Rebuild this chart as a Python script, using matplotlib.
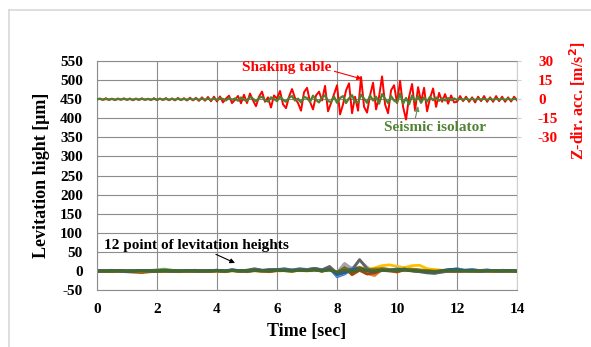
import numpy as np
import matplotlib
matplotlib.use("Agg")
import matplotlib.pyplot as plt
from matplotlib.lines import Line2D

# ---- data ------------------------------------------------------------------
# acceleration signals, sampled every 0.1 s (m/s^2)
acc_time = np.round(np.arange(0, 14.01, 0.1), 2)
shaking_table = [
    0, 0.5, -0.5, 0.8, -0.6, 0.4, -0.7, 0.6, -0.4, 0.7,
    -0.5, 0.6, -0.8, 0.5, -0.6, 0.7, -0.5, 0.4, -0.6, 0.8,
    -0.7, 0.5, -0.6, 0.9, -0.8, 0.6, -0.9, 1.0, -0.7, 0.8,
    -1.0, 1.2, -0.9, 1.1, -1.3, 1.5, -1.2, 1.8, -1.6, 2.0,
    -1.8, 2.2, -2.5, 0.5, 2.8, -3.0, -0.5, 2.6, -3.2, 3.5,
    -3.0, 4.5, -1.0, -5.5, 2.0, 6.0, -2.0, 1.5, -6.5, 3.0,
    0.5, 6.5, -4.0, -7.0, 2.0, 8.0, 1.0, -3.0, -9.0, 5.5,
    9.0, -2.0, -8.0, 3.0, 6.0, -1.0, 10.5, -9.5, -3.0, 4.0,
    11.0, -12.0, -4.0, 7.0, 12.5, -11.0, 2.0, -9.0, 17.5, -6.0,
    -10.5, 3.0, 13.0, -8.0, 2.0, 18.0, -4.0, -11.0, 7.0, 11.0,
    -3.0, 14.5, -6.0, -16.0, 2.0, 12.0, -9.0, 9.5, -2.0, 9.0,
    -9.5, 1.0, 8.5, -6.0, 5.0, -2.0, 4.0, -3.5, 3.0, -2.5,
    -2.0, 2.5, -1.5, 2.0, -2.0, 1.5, -2.5, 2.0, -1.5, 2.5,
    -2.0, 1.5, -2.0, 2.5, -1.5, 2.0, -2.0, 1.5, -1.8, 2.0, -1.0,
]
seismic_isolator = [
    0, 0.3, -0.3, 0.2, -0.2, 0.3, -0.3, 0.2, -0.2, 0.3,
    -0.3, 0.2, -0.3, 0.3, -0.2, 0.3, -0.3, 0.2, -0.3, 0.3,
    -0.3, 0.4, -0.3, 0.3, -0.4, 0.3, -0.3, 0.4, -0.4, 0.3,
    -0.4, 0.5, -0.4, 0.5, -0.5, 0.6, -0.5, 0.6, -0.6, 0.7,
    -0.6, 0.8, 0.2, -0.9, 1.0, -0.4, 0.6, -1.2, 1.4, -0.5,
    -1.2, 1.8, 0.4, -1.6, 1.0, 2.0, -0.8, -1.8, 1.5, 0.2,
    -1.5, 2.2, -0.5, -2.0, 1.2, 2.5, -1.0, 0.5, -2.5, 1.8,
    1.0, -2.0, 2.8, -0.6, -2.5, 1.5, 3.0, -1.5, -2.2, 2.0,
    -2.8, 1.0, 2.5, -3.0, 0.8, 3.2, -2.0, -2.5, 3.5, 0.5,
    -2.8, 3.0, -1.0, 2.0, -3.5, 4.0, 0.5, -3.0, 2.5, -1.0,
    -2.5, 4.5, -3.5, 1.0, -4.0, 3.0, -1.5, 2.5, -2.8, 1.5,
    -1.8, 2.0, -0.8, 1.4, -1.2, 0.6, -1.0, 0.9, -0.7, 0.6,
    -0.6, 0.5, -0.5, 0.6, -0.6, 0.4, -0.5, 0.5, -0.4, 0.5,
    -0.5, 0.4, -0.5, 0.5, -0.4, 0.5, -0.5, 0.4, -0.5, 0.4, 0,
]

# levitation heights of 12 points, sampled every 0.25 s (um)
lev_time = np.round(np.arange(0, 14.01, 0.25), 2)
lev_1 = [0, 1, -1, 0, 1, 0, -1, 1, 0, -1, 1, 0, 1, -1, 0, 1,
         2, -1, 3, 1, -2, 4, 2, -1, 3, 5, 2, 6,
         4, 7, 3, 9, -15, -8, 5, 10, 2, -4, 6, 3, 5, 8, 4, 2, -3, -5, 1, 3,
         6, 2, 4, 1, 3, 0, 2, 1, 0]
lev_2 = [0, -1, 0, 1, -1, 0, 1, -1, 0, 0, -1, 1, 0, -1, 1, 0,
         1, -2, 2, 0, -1, 2, 1, -2, 2, 3, 0, 4,
         2, 5, 1, 6, -5, 12, -10, 3, -6, -12, 4, 2, -3, 5, 1, 0, 2, -2, 1, 0,
         -1, 1, 0, -1, 1, 0, 1, 0, 0]
lev_3 = [1, 0, -1, 1, 0, -1, 0, 1, -1, 0, 1, 0, -1, 1, 0, 0,
         1, 0, 2, -1, 1, 3, 0, 2, 4, 1, 3, 5,
         3, 6, 2, 8, -4, 20, 6, 28, 10, -2, 8, 4, 3, 6, 2, 0, -4, -6, -2, 1,
         -2, 0, -1, 1, -1, 0, 1, 0, 0]
lev_4 = [-1, 0, -2, -1, 0, -1, -2, 0, -1, 0, -1, -2, 0, -1, 0, -1,
         0, -1, 1, -1, 0, 1, -1, 2, 0, 1, -1, 2,
         0, 3, -1, 4, -6, 2, -3, 10, 4, 8, 14, 16, 12, 9, 14, 15, 6, 4, 2, 3,
         1, 2, 0, 2, 1, 0, 1, 0, 0]
lev_5 = [0, 1, 0, -1, 1, 0, 1, 0, -1, 1, 0, 1, 0, 1, -1, 0,
         2, 1, 3, 0, 2, 4, 1, 3, 4, 6, 3, 5,
         2, 5, 0, 7, -12, -6, 8, 4, 0, -3, 5, 2, 6, 4, 2, 1, -2, -4, 0, 4,
         5, 2, 3, 1, 2, 1, 0, 1, 0]
lev_6 = [0, 1, 2, 0, 1, -1, 0, 1, 3, 5, 2, 1, 0, 2, 1, 0,
         1, 0, 2, -1, 0, 2, 1, -1, 2, 1, 0, 2,
         1, 3, 0, 4, -3, 2, -4, 6, 1, -2, 3, 1, 2, 4, 1, 0, -1, -2, 0, 1,
         0, 1, 0, 0, 1, 0, 0, 1, 0]
lev_7 = [0, 0, -1, 1, 0, 0, -1, 1, 0, 0, 1, -1, 0, 1, 0, 0,
         1, -1, 2, 0, -1, 3, 1, 0, 2, 3, 1, 4,
         2, 5, 1, 6, -9, -3, 4, 8, 2, -2, 4, 2, 3, 5, 2, 1, -3, -4, -1, 2,
         3, 1, 2, 0, 1, 0, 1, 0, 0]
lev_8 = [0, -1, 0, -1, -2, -3, -4, -2, -1, 0, -1, 0, -1, 0, 0, -1,
         0, -1, 1, 0, -1, 1, 0, -1, 1, 2, 0, 2,
         1, 3, 0, 4, -4, 8, -9, 2, -8, -5, 2, 0, -2, 3, 0, -1, 1, -2, 0, -1,
         -1, 0, -1, 0, 0, -1, 0, 0, 0]
lev_9 = [0, 1, 0, 0, 1, 0, 0, 1, 0, 0, 1, 0, 0, 1, 0, 1,
         2, 0, 3, 1, 2, 6, 2, 4, 3, 5, 2, 4,
         3, 7, 3, 12, -6, 8, 2, 30, 6, 0, 4, 3, 2, 5, 1, -2, -5, -6, -3, 0,
         -1, 0, -1, 0, 1, 0, 0, 1, 0]
lev_10 = [0, -1, 0, -1, 0, -1, -2, -1, 0, -1, 0, -1, 0, -1, 0, 0,
          0, -1, 1, 0, -1, 1, 0, 1, 2, 1, 0, 3,
          1, 4, 0, 5, -5, 4, -2, 9, 2, 5, 6, 3, 2, 4, 5, 3, 1, 0, 1, 2,
          0, 1, 0, 1, 0, 0, 1, 0, 0]
lev_11 = [0, 0, 1, 0, -1, 0, 1, 0, 0, 1, 0, 0, 1, 0, 0, 1,
          1, 0, 2, 1, 0, 2, 1, 2, 3, 2, 1, 3,
          2, 4, 1, 5, -8, -4, 3, 6, 1, -1, 3, 2, 3, 4, 1, 0, -2, -3, 1, 4,
          4, 1, 2, 0, 1, 1, 0, 1, 0]
lev_12 = [0, 0, 0, 1, 0, 0, 1, 0, 0, 1, 0, 0, 1, 0, 0, 0,
          1, 0, 1, 0, 1, 2, 0, 1, 2, 1, 0, 2,
          1, 3, 0, 3, -3, 2, -2, 5, 1, 0, 2, 1, 1, 3, 1, 0, -1, -2, 0, 1,
          1, 0, 1, 0, 0, 1, 0, 0, 0]
levitation = [lev_1, lev_2, lev_3, lev_4, lev_5, lev_6,
              lev_7, lev_8, lev_9, lev_10, lev_11, lev_12]
lev_colors = ['#4472C4', '#ED7D31', '#A5A5A5', '#FFC000', '#5B9BD5', '#70AD47',
              '#264478', '#9E480E', '#636363', '#997300', '#255E91', '#43682B']

left_ticks = list(range(-50, 551, 50))
right_ticks = [-30, -15, 0, 15, 30]
x_ticks = list(range(0, 15, 2))

# ---- figure -----------------------------------------------------------------
plt.rcParams['font.family'] = ['Liberation Serif', 'DejaVu Serif']
plt.rcParams['font.weight'] = 'bold'
plt.rcParams['axes.unicode_minus'] = False

fig = plt.figure(figsize=(5.91, 3.47), dpi=100)
ax = fig.add_axes([0.164, 0.164, 0.711, 0.660])

grid_c = '#8c8c8c'
for i, s in enumerate(levitation):
    ax.plot(lev_time, s, color=lev_colors[i], lw=2.0, solid_joinstyle='round')

ax.set_xlim(0, 14)
ax.set_ylim(-50, 550)
ax.set_xticks(x_ticks)
ax.set_yticks(left_ticks)
ax.grid(True, color=grid_c, lw=0.8)
ax.tick_params(axis='both', length=0, labelsize=11)
ax.tick_params(axis='y', pad=10)
ax.tick_params(axis='x', pad=9)
for side in ['left', 'bottom', 'top']:
    ax.spines[side].set_color(grid_c)
    ax.spines[side].set_linewidth(0.8)
ax.spines['right'].set_color('#d0d0d0')

ax.set_xlabel('Time [sec]', fontsize=13, fontweight='bold')
ax.xaxis.set_label_coords(0.5, -0.144)
ax.set_ylabel('Levitation hight [μm]', fontsize=13, fontweight='bold')
ax.yaxis.set_label_coords(-0.112, 0.5)

ax2 = ax.twinx()
ax2.plot(acc_time, shaking_table, color='#ff0000', lw=1.4)
ax2.plot(acc_time, seismic_isolator, color='#4f7f2f', lw=1.6)
ax2.set_ylim(-150, 30)
ax2.set_yticks(right_ticks)
ax2.tick_params(axis='y', length=3, color='#d0d0d0', labelsize=11,
                labelcolor='#ff0000', pad=12)
for side in ['left', 'right', 'top', 'bottom']:
    ax2.spines[side].set_visible(False)
ax2.set_ylabel('Z-dir. acc. [m/s$^\\mathbf{2}$]', fontsize=11.5,
               fontweight='bold', color='#ff0000')
ax2.yaxis.set_label_coords(1.119, 0.825)

# annotations (in left-axis coordinates)
ax2.annotate('Shaking table', xy=(8.83, 503), xytext=(6.33, 532),
             xycoords=ax.transData, textcoords=ax.transData,
             ha='center', va='center', color='#ff0000', fontsize=11,
             fontweight='bold',
             arrowprops=dict(arrowstyle='-|>', color='#ff0000', lw=0.8,
                             mutation_scale=7, shrinkA=0, shrinkB=0,
                             relpos=(1.0, 0.3)))
ax2.annotate('Seismic isolator', xy=(10.7, 432), xytext=(11.27, 377),
             xycoords=ax.transData, textcoords=ax.transData,
             ha='center', va='center', color='#548235', fontsize=11,
             fontweight='bold',
             arrowprops=dict(arrowstyle='-|>', color='#6a8f5a', lw=0.8,
                             mutation_scale=7, shrinkA=0, shrinkB=0,
                             relpos=(0.3, 1.0)))
ax2.annotate('12 point of levitation heights', xy=(4.6, 21), xytext=(3.33, 68),
             xycoords=ax.transData, textcoords=ax.transData,
             ha='center', va='center', color='black', fontsize=11,
             fontweight='bold',
             arrowprops=dict(arrowstyle='-|>', color='black', lw=0.8,
                             mutation_scale=7, shrinkA=0, shrinkB=0,
                             relpos=(0.57, 0.0)))

# light frame of the slide
fig.add_artist(Line2D([9 / 591, 9 / 591], [0, 1 - 10 / 347],
                      transform=fig.transFigure, color='#d9d9d9', lw=1.2))
fig.add_artist(Line2D([9 / 591, 1], [1 - 10 / 347, 1 - 10 / 347],
                      transform=fig.transFigure, color='#d9d9d9', lw=1.2))

fig.savefig('out.png', dpi=100)
